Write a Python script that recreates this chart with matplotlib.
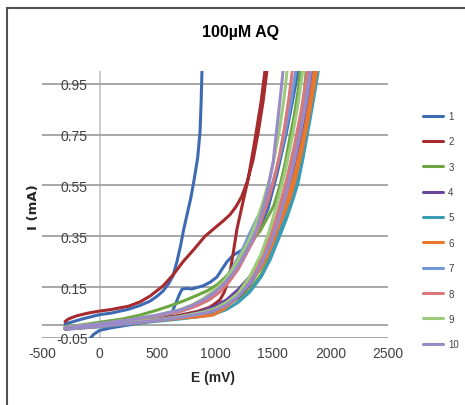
import matplotlib
matplotlib.use('Agg')
import matplotlib.pyplot as plt
from matplotlib.patches import Rectangle

# potential (mV) and current (mA) for each sweep; each list runs forward then back
E1 = [-130, -100, -50, 0, 100, 300, 500, 610, 650, 690, 714, 750, 800, 896, 960, 1017, 1060, 1104, 1156, 1230, 1304,
      1380, 1460, 1540, 1620, 1680, 1720, 1735,
      900, 887, 880, 870, 850, 820, 790, 760, 730, 700, 670, 636, 600, 550, 500, 437, 350, 250, 100, 0, -150, -300]
I1 = [-0.08, -0.06, -0.035, -0.02, -0.01, 0.005, 0.02, 0.035, 0.075, 0.12, 0.142, 0.145, 0.143, 0.155, 0.17, 0.19, 0.22,
      0.25, 0.275, 0.295, 0.315, 0.37, 0.46, 0.6, 0.76, 0.9, 1.0, 1.05,
      1.05, 1.0, 0.88, 0.76, 0.66, 0.575, 0.50, 0.44, 0.38, 0.31, 0.25, 0.195, 0.165, 0.135, 0.115, 0.095, 0.078, 0.063,
      0.048, 0.042, 0.025, 0.005]

E2 = [-300, 0, 300, 500, 700, 850, 950, 1000, 1043, 1080, 1110, 1135, 1160, 1191, 1240, 1290, 1350, 1400, 1433, 1438,
      1457, 1450, 1417, 1375, 1330, 1276, 1230, 1180, 1130, 1070, 1017, 913, 820, 723, 640, 550, 437, 350, 250, 100, 0,
      -100, -200, -270, -300]
I2 = [-0.01, 0.0, 0.015, 0.025, 0.04, 0.055, 0.07, 0.085, 0.10, 0.13, 0.17, 0.22, 0.29, 0.38, 0.48, 0.58, 0.74, 0.88,
      1.0, 1.05,
      1.05, 1.0, 0.88, 0.76, 0.65, 0.56, 0.505, 0.465, 0.435, 0.41, 0.39, 0.35, 0.30, 0.25, 0.20, 0.155, 0.115, 0.092,
      0.075, 0.062, 0.056, 0.048, 0.037, 0.025, 0.015]

E3 = [-300, 0, 300, 500, 700, 900, 1000, 1100, 1200, 1300, 1400, 1500, 1580, 1640, 1700, 1745, 1775, 1790, 1795,
      1745, 1740, 1720, 1685, 1650, 1610, 1564, 1510, 1450, 1390, 1330, 1277, 1200, 1104, 1020, 930, 830, 723, 620,
      500, 350, 200, 0, -150, -300]
I3 = [-0.012, -0.002, 0.012, 0.022, 0.035, 0.05, 0.062, 0.08, 0.105, 0.14, 0.20, 0.29, 0.40, 0.52, 0.66, 0.80, 0.92,
      1.0, 1.05,
      1.05, 1.0, 0.92, 0.82, 0.74, 0.64, 0.55, 0.47, 0.42, 0.37, 0.34, 0.30, 0.25, 0.195, 0.16, 0.135, 0.115, 0.095,
      0.078, 0.06, 0.04, 0.025, 0.012, 0.002, -0.006]

E4 = [-300, 0, 300, 500, 700, 900, 1000, 1100, 1200, 1300, 1400, 1480, 1550, 1620, 1690, 1750, 1800, 1845, 1855,
      1815, 1810, 1780, 1740, 1700, 1650, 1600, 1540, 1480, 1400, 1300, 1200, 1100, 1000, 850, 700, 500, 300, 0, -300]
I4 = [-0.014, -0.004, 0.01, 0.02, 0.03, 0.045, 0.057, 0.078, 0.11, 0.16, 0.23, 0.31, 0.40, 0.50, 0.62, 0.75, 0.87,
      1.0, 1.05,
      1.05, 1.0, 0.90, 0.78, 0.68, 0.57, 0.48, 0.40, 0.33, 0.26, 0.19, 0.14, 0.10, 0.075, 0.05, 0.035, 0.025, 0.015,
      0.002, -0.01]

E5 = [-300, 0, 300, 500, 700, 900, 1000, 1100, 1200, 1300, 1400, 1480, 1560, 1620, 1680, 1720, 1760, 1800, 1840,
      1870, 1895, 1900,
      1875, 1870, 1840, 1800, 1760, 1710, 1660, 1600, 1540, 1470, 1390, 1300, 1200, 1100, 1000, 850, 700, 500, 300, 0,
      -300]
I5 = [-0.016, -0.006, 0.007, 0.016, 0.025, 0.036, 0.045, 0.062, 0.09, 0.13, 0.19, 0.26, 0.35, 0.42, 0.50, 0.56, 0.65,
      0.75, 0.85, 0.93, 1.0, 1.05,
      1.05, 1.0, 0.90, 0.79, 0.69, 0.59, 0.50, 0.42, 0.35, 0.28, 0.22, 0.165, 0.12, 0.085, 0.062, 0.042, 0.03, 0.02,
      0.01, -0.002, -0.012]

E6 = [-300, 0, 300, 500, 700, 850, 983, 1080, 1157, 1250, 1320, 1390, 1450, 1500, 1537, 1600, 1650, 1700, 1750,
      1800, 1840, 1880, 1890,
      1865, 1860, 1830, 1790, 1750, 1700, 1650, 1600, 1560, 1520, 1500, 1460, 1390, 1300, 1200, 1100, 1000, 850, 700,
      500, 300, 0, -300]
I6 = [-0.015, -0.004, 0.01, 0.02, 0.028, 0.033, 0.04, 0.065, 0.095, 0.14, 0.18, 0.22, 0.27, 0.32, 0.37, 0.44, 0.50,
      0.58, 0.68, 0.79, 0.89, 1.0, 1.05,
      1.05, 1.0, 0.90, 0.80, 0.71, 0.61, 0.53, 0.46, 0.41, 0.38, 0.355, 0.30, 0.24, 0.18, 0.125, 0.085, 0.06, 0.04,
      0.03, 0.02, 0.01, -0.002, -0.012]

E7 = [-300, 0, 300, 500, 700, 900, 1000, 1100, 1200, 1300, 1400, 1480, 1550, 1620, 1690, 1750, 1790, 1820, 1828,
      1705, 1700, 1660, 1610, 1560, 1500, 1440, 1364, 1300, 1230, 1157, 1080, 1000, 900, 800, 700, 500, 300, 0, -300]
I7 = [-0.013, -0.003, 0.011, 0.021, 0.032, 0.048, 0.06, 0.082, 0.115, 0.17, 0.25, 0.33, 0.42, 0.53, 0.66, 0.79, 0.90,
      1.0, 1.05,
      1.05, 1.0, 0.88, 0.76, 0.66, 0.56, 0.48, 0.42, 0.36, 0.29, 0.23, 0.17, 0.13, 0.095, 0.07, 0.054, 0.036, 0.022,
      0.005, -0.008]

E8 = [-300, 0, 300, 500, 700, 900, 1000, 1100, 1200, 1300, 1400, 1480, 1550, 1620, 1690, 1750, 1800, 1806,
      1675, 1670, 1640, 1600, 1560, 1510, 1460, 1400, 1340, 1270, 1200, 1120, 1040, 950, 850, 700, 500, 300, 0, -300]
I8 = [-0.013, -0.003, 0.011, 0.021, 0.033, 0.05, 0.063, 0.086, 0.12, 0.18, 0.26, 0.35, 0.45, 0.57, 0.71, 0.85, 1.0,
      1.05,
      1.05, 1.0, 0.89, 0.77, 0.67, 0.57, 0.49, 0.41, 0.34, 0.28, 0.22, 0.17, 0.13, 0.10, 0.078, 0.055, 0.036, 0.022,
      0.005, -0.008]

E9 = [-300, 0, 300, 500, 700, 900, 1000, 1100, 1200, 1300, 1400, 1470, 1540, 1610, 1670, 1720, 1760, 1765,
      1630, 1625, 1595, 1555, 1515, 1470, 1420, 1360, 1300, 1230, 1160, 1080, 1000, 900, 800, 700, 500, 300, 0, -300]
I9 = [-0.012, -0.002, 0.012, 0.022, 0.034, 0.052, 0.066, 0.09, 0.125, 0.19, 0.28, 0.37, 0.48, 0.61, 0.74, 0.87, 1.0,
      1.05,
      1.05, 1.0, 0.88, 0.76, 0.66, 0.57, 0.49, 0.41, 0.34, 0.28, 0.225, 0.175, 0.14, 0.105, 0.08, 0.062, 0.04, 0.024,
      0.006, -0.008]

E10 = [-300, 0, 300, 500, 700, 900, 1000, 1100, 1200, 1300, 1400, 1480, 1550, 1620, 1690, 1750, 1800, 1830, 1836,
       1595, 1590, 1560, 1530, 1504, 1460, 1417, 1370, 1330, 1270, 1217, 1150, 1080, 1000, 900, 800, 700, 500, 300, 0,
       -150, -300]
I10 = [-0.014, -0.004, 0.01, 0.02, 0.031, 0.047, 0.059, 0.08, 0.113, 0.165, 0.24, 0.32, 0.41, 0.52, 0.65, 0.78, 0.90,
       1.0, 1.05,
       1.05, 1.0, 0.87, 0.75, 0.64, 0.54, 0.46, 0.39, 0.345, 0.29, 0.245, 0.20, 0.165, 0.13, 0.10, 0.078, 0.06, 0.04,
       0.024, 0.006, -0.002, -0.01]

labels = ['1', '2', '3', '4', '5', '6', '7', '8', '9', '10']
colors = ['#3D6BB3', '#A62B2F', '#6EA543', '#6A46A0', '#3A9DB5',
          '#E8782E', '#7197D6', '#D8787A', '#9DCB7C', '#9A8AC8']
x_ticks = [-500, 0, 500, 1000, 1500, 2000, 2500]
y_ticks = [-0.05, 0.15, 0.35, 0.55, 0.75, 0.95]

plt.rcParams['font.family'] = ['Liberation Sans', 'DejaVu Sans']
plt.rcParams['axes.unicode_minus'] = False

fig = plt.figure(figsize=(4.65, 4.06), dpi=100)
fig.patch.set_facecolor('white')
ax = fig.add_axes((42 / 465, 1 - 339 / 406, 346 / 465, 267 / 406))

for s in ax.spines.values():
    s.set_visible(False)

ax.set_xlim(-500, 2500)
ax.set_ylim(-0.05, 1.0)
ax.set_xticks(x_ticks)
ax.set_yticks(y_ticks)
ax.set_yticklabels(['%.2f' % v for v in y_ticks])
ax.grid(axis='y', color='#A0A0A0', lw=1.3)
ax.set_axisbelow(True)
ax.axhline(0, color='#A0A0A0', lw=1.3, zorder=0.5)
ax.axvline(0, color='#C8C8C8', lw=1.3, zorder=0.5)
ax.tick_params(axis='both', length=0, labelsize=10, colors='#404040')
ax.tick_params(axis='y', pad=-33)
ax.tick_params(axis='x', pad=6)

series = [(E1, I1), (E2, I2), (E3, I3), (E4, I4), (E5, I5),
          (E6, I6), (E7, I7), (E8, I8), (E9, I9), (E10, I10)]
for (e, i), lab, c in zip(series, labels, colors):
    ax.plot(e, i, color=c, lw=2.2, label=lab, solid_capstyle='round', solid_joinstyle='round')

fig.text(240 / 465, 1 - 33 / 406, '100\u00b5M AQ', ha='center', va='center',
         fontsize=11.5, fontweight='bold')
fig.text(213 / 465, 1 - 378 / 406, 'E (mV)', ha='center', va='center',
         fontsize=10, fontweight='bold', color='#262626')
fig.text(33 / 465, 1 - 207 / 406, 'I (mA)', ha='center', va='center', rotation=90,
         fontsize=9.5, fontweight='bold', family='DejaVu Sans', color='#262626')

fig.legend(loc='upper left', bbox_to_anchor=(423 / 465, 1 - 112 / 406), frameon=False,
           fontsize=7, handlelength=2.1, handletextpad=0.5, labelspacing=1.58,
           borderpad=0, borderaxespad=0, labelcolor='#404040')

fig.add_artist(Rectangle((7 / 465, -0.1), 1.2, 1.1 - 9 / 406, transform=fig.transFigure,
                         fill=False, edgecolor='#505050', lw=1.5))

fig.savefig('out.png', dpi=100)
